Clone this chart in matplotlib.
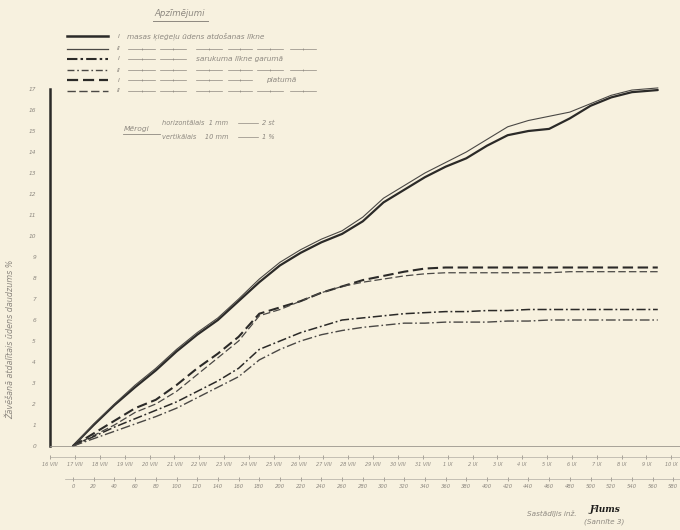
import matplotlib
matplotlib.use("Agg")
import matplotlib.pyplot as plt
from matplotlib.lines import Line2D

# ---- data: hours since start of drying vs. percent ----
hours = [0, 20, 40, 60, 80, 100, 120, 140, 160, 180, 200, 220, 240, 260, 280,
         300, 320, 340, 360, 380, 400, 420, 440, 460, 480, 500, 520, 540, 565]

water_I = [0, 1.0, 1.95, 2.8, 3.6, 4.5, 5.3, 6.0, 6.9, 7.8, 8.6, 9.2, 9.7, 10.1, 10.7,
           11.6, 12.2, 12.8, 13.3, 13.7, 14.3, 14.8, 15.0, 15.1, 15.6, 16.2, 16.6, 16.85, 16.95]
water_II = [0, 1.05, 2.0, 2.9, 3.7, 4.6, 5.4, 6.1, 7.0, 7.95, 8.75, 9.35, 9.85, 10.25, 10.9,
            11.8, 12.4, 13.0, 13.5, 14.0, 14.6, 15.2, 15.5, 15.7, 15.9, 16.3, 16.7, 16.95, 17.05]

length_I = [0, 0.45, 0.9, 1.3, 1.7, 2.1, 2.6, 3.1, 3.7, 4.6, 5.0, 5.4, 5.7, 6.0, 6.1,
            6.2, 6.3, 6.35, 6.4, 6.4, 6.45, 6.45, 6.5, 6.5, 6.5, 6.5, 6.5, 6.5, 6.5]
length_II = [0, 0.35, 0.7, 1.05, 1.4, 1.8, 2.3, 2.8, 3.3, 4.1, 4.6, 5.0, 5.3, 5.5, 5.65,
             5.75, 5.85, 5.85, 5.9, 5.9, 5.9, 5.95, 5.95, 6.0, 6.0, 6.0, 6.0, 6.0, 6.0]

width_I = [0, 0.6, 1.2, 1.8, 2.2, 2.9, 3.7, 4.4, 5.2, 6.3, 6.6, 6.9, 7.3, 7.6, 7.9,
           8.1, 8.3, 8.45, 8.5, 8.5, 8.5, 8.5, 8.5, 8.5, 8.5, 8.5, 8.5, 8.5, 8.5]
width_II = [0, 0.5, 1.0, 1.6, 2.0, 2.6, 3.4, 4.2, 5.0, 6.2, 6.5, 6.9, 7.3, 7.6, 7.8,
            7.95, 8.1, 8.2, 8.25, 8.25, 8.25, 8.25, 8.25, 8.25, 8.3, 8.3, 8.3, 8.3, 8.3]

y_ticks = list(range(0, 18))
hour_ticks = list(range(0, 600, 20))
date_labels = [f"{d} VIII" for d in range(16, 32)] + [f"{d} IX" for d in range(1, 11)]
first_date_hour = -22

# ---- styling ----
PAPER = "#f7f1df"
INK = "#2b2a28"
INK_THIN = "#4a4845"
PENCIL = "#8d8880"
TXT = dict(color=PENCIL, fontstyle="italic", fontfamily="DejaVu Sans")

W, H = 680, 530
fig = plt.figure(figsize=(W / 100, H / 100), dpi=100, facecolor=PAPER)


def fx(x):
    return x / W


def fy(y):
    return 1 - y / H


# plot area: x from 50px to 680px, y from 446px (0 %) up to 89px (17 %)
ax = fig.add_axes([fx(50), fy(446), fx(680) - fx(50), fy(89) - fy(446)])
ax.set_facecolor("none")
px_per_hour = 1.035
ax.set_xlim((50 - 73) / px_per_hour, (680 - 73) / px_per_hour)
ax.set_ylim(0, 17)

for s in ("top", "right"):
    ax.spines[s].set_visible(False)
ax.spines["left"].set_color(INK)
ax.spines["left"].set_linewidth(1.8)
ax.spines["bottom"].set_color("#9a958c")
ax.spines["bottom"].set_linewidth(0.6)

ax.set_yticks(y_ticks)
ax.set_yticklabels([str(v) for v in y_ticks])
ax.tick_params(axis="y", length=0, pad=10, labelsize=4.2, labelcolor=PENCIL)
for lab in ax.get_yticklabels():
    lab.set_fontstyle("italic")
ax.set_xticks([])

ax.set_ylabel("Žāvēšanā atdalītais ūdens daudzums %", fontsize=5.8, **TXT)
ax.yaxis.set_label_coords(-0.055, 0.30)

# curves
ax.plot(hours, water_I, color=INK, lw=1.6, solid_capstyle="round", clip_on=False)
ax.plot(hours, water_II, color=INK_THIN, lw=0.8, clip_on=False)
ax.plot(hours, width_I, color=INK, lw=1.5, dashes=(5, 2.2), clip_on=False)
ax.plot(hours, width_II, color=INK_THIN, lw=0.9, dashes=(6, 2.5), clip_on=False)
ax.plot(hours, length_I, color=INK, lw=1.1, dashes=(6, 1.8, 1.2, 1.8), clip_on=False)
ax.plot(hours, length_II, color=INK_THIN, lw=1.0, dashes=(7, 2, 1.2, 2), clip_on=False)

# date axis
date_ax = ax.secondary_xaxis(-11 / 357)
date_ticks = [first_date_hour + 24 * k for k in range(len(date_labels))]
date_ax.set_xticks(date_ticks)
date_ax.set_xticklabels(date_labels)
date_ax.tick_params(direction="inout", length=2.5, width=0.6, color="#9a958c",
                    labelsize=3.6, labelcolor=PENCIL, pad=2.5)
date_ax.spines["bottom"].set_color("#b0aba2")
date_ax.spines["bottom"].set_linewidth(0.5)
for lab in date_ax.get_xticklabels():
    lab.set_fontstyle("italic")

# hours axis
hour_ax = ax.secondary_xaxis(-33 / 357)
hour_ax.set_xticks(hour_ticks)
hour_ax.set_xticklabels([str(h) for h in hour_ticks])
hour_ax.tick_params(direction="inout", length=2.5, width=0.6, color="#9a958c",
                    labelsize=3.8, labelcolor=PENCIL, pad=2.5)
hour_ax.spines["bottom"].set_color("#b0aba2")
hour_ax.spines["bottom"].set_linewidth(0.5)
hour_ax.spines["bottom"].set_bounds(-8, 590)
for lab in hour_ax.get_xticklabels():
    lab.set_fontstyle("italic")

# ---- key (Apzīmējumi) ----
fig.text(fx(180), fy(14), "Apzīmējumi", fontsize=6.2, ha="center", va="center", **TXT)
fig.add_artist(Line2D([fx(153), fx(208)], [fy(20.5), fy(20.5)], color=PENCIL, lw=0.7))

rows_y = [36, 49, 59, 70, 80, 91]
styles = [
    dict(color=INK, lw=1.8),
    dict(color=INK_THIN, lw=0.9),
    dict(color=INK, lw=1.5, dashes=(5, 1.5, 1.2, 1.5)),
    dict(color=INK_THIN, lw=1.0, dashes=(5, 2, 1.2, 2)),
    dict(color=INK, lw=1.6, dashes=(5, 2.2)),
    dict(color=INK_THIN, lw=1.0, dashes=(6, 2.5)),
]
marks = ["I", "II", "I", "II", "I", "II"]
for y, st, m in zip(rows_y, styles, marks):
    fig.add_artist(Line2D([fx(67), fx(108)], [fy(y), fy(y)], **st))
    fig.text(fx(119), fy(y), m, fontsize=4.6, ha="center", va="center", **TXT)


def ditto(y, x0, x1):
    segs = [(128, 155), (160, 186), (196, 222), (228, 252), (257, 283), (290, 316)]
    for a, b in segs:
        if a >= x0 and b <= x1:
            fig.add_artist(Line2D([fx(a), fx(b)], [fy(y), fy(y)], color=PENCIL, lw=0.5))
            fig.add_artist(Line2D([fx((a + b) / 2)], [fy(y)], marker="|", ms=1.6,
                                  color=PENCIL, lw=0, mew=0.5))


fig.text(fx(127), fy(rows_y[0]), "masas ķieģeļu ūdens atdošanas līkne",
         fontsize=5.3, ha="left", va="center", **TXT)
ditto(rows_y[1], 120, 320)
ditto(rows_y[2], 120, 190)
fig.text(fx(196), fy(rows_y[2]), "sarukuma līkne garumā",
         fontsize=5.3, ha="left", va="center", **TXT)
ditto(rows_y[3], 120, 320)
ditto(rows_y[4], 120, 262)
fig.text(fx(266), fy(rows_y[4]), "platumā", fontsize=5.3, ha="left", va="center", **TXT)
ditto(rows_y[5], 120, 320)

# ---- scales (Mērogi) ----
fig.text(fx(124), fy(129), "Mērogi", fontsize=5.4, ha="left", va="center", **TXT)
fig.add_artist(Line2D([fx(123), fx(160)], [fy(134), fy(134)], color=PENCIL, lw=0.6))
fig.text(fx(162), fy(123), "horizontālais  1 mm", fontsize=4.8, ha="left", va="center", **TXT)
fig.text(fx(162), fy(137), "vertikālais    10 mm", fontsize=4.8, ha="left", va="center", **TXT)
for y in (123, 137):
    fig.add_artist(Line2D([fx(238), fx(258)], [fy(y), fy(y)], color=PENCIL, lw=0.5))
fig.text(fx(262), fy(123), "2 st", fontsize=4.8, ha="left", va="center", **TXT)
fig.text(fx(262), fy(137), "1 %", fontsize=4.8, ha="left", va="center", **TXT)

# ---- signature ----
fig.text(fx(527), fy(514), "Sastādījis inž.", fontsize=5.2, ha="left", va="center", **TXT)
fig.text(fx(590), fy(509), "Ƒlums", fontsize=6.5, ha="left", va="center",
         color="#1e1d1b", fontstyle="italic", fontweight="bold", fontfamily="DejaVu Serif")
fig.text(fx(584), fy(522), "(Sannīte 3)", fontsize=5.2, ha="left", va="center", **TXT)

fig.savefig("out.png", dpi=100, facecolor=PAPER)
